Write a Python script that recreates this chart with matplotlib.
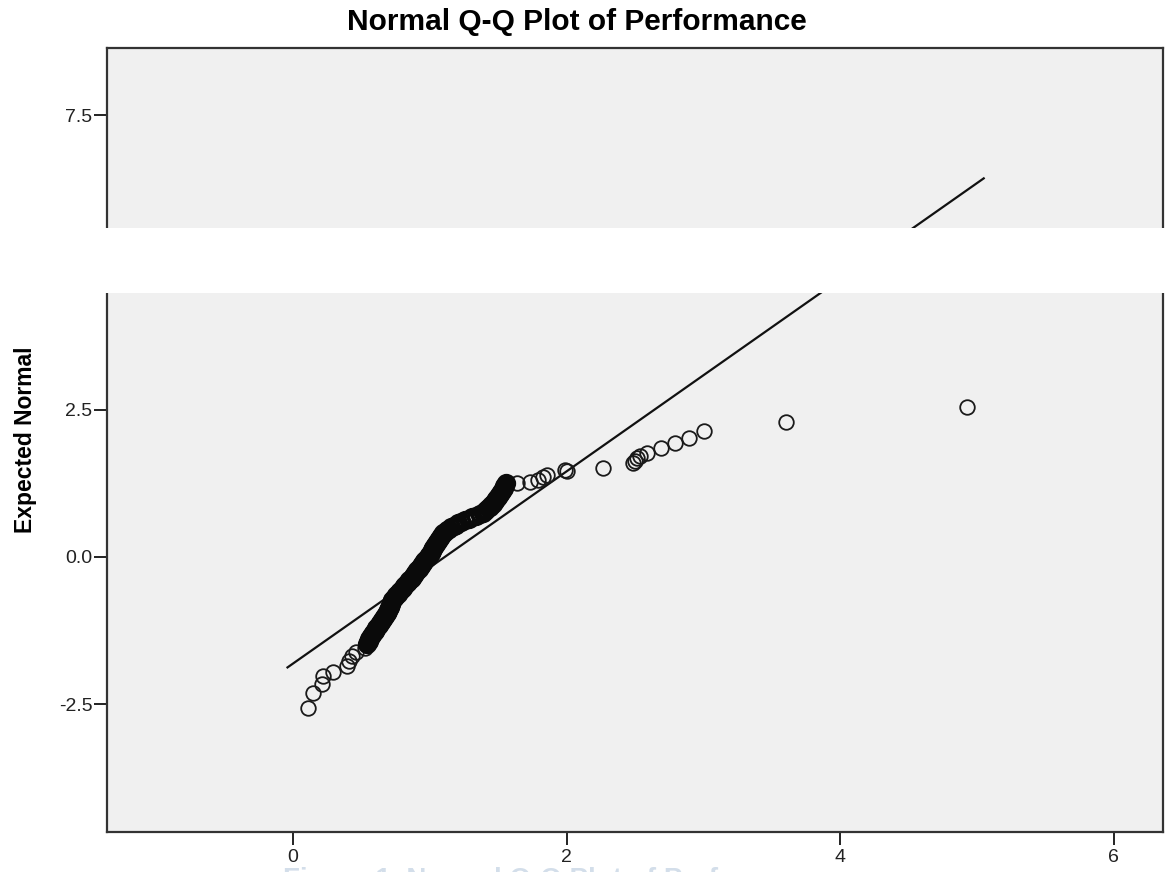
import matplotlib.pyplot as plt
from matplotlib.patches import Rectangle

lower_x = [0.11, 0.146, 0.212, 0.219, 0.292, 0.395, 0.409, 0.431, 0.461, 0.526, 0.534]
lower_y = [-2.56, -2.31, -2.16, -2.02, -1.95, -1.85, -1.77, -1.68, -1.61, -1.54, -1.48]

# the dense black band in the middle
mid_x = [0.540, 0.546, 0.553, 0.559, 0.565, 0.572, 0.578, 0.585, 0.591, 0.597, 0.604,
         0.610, 0.618, 0.626, 0.634, 0.642, 0.650, 0.658, 0.666, 0.674, 0.682,
         0.690, 0.694, 0.698, 0.702, 0.706, 0.710, 0.714, 0.718, 0.722,
         0.727, 0.736, 0.746, 0.756, 0.765, 0.775, 0.784, 0.794, 0.803, 0.813,
         0.822, 0.832, 0.842, 0.851,
         0.860, 0.868, 0.877, 0.885, 0.893, 0.902, 0.910, 0.918, 0.927, 0.935,
         0.943, 0.952, 0.960, 0.968, 0.977, 0.985,
         0.992, 0.999, 1.006, 1.013, 1.020, 1.027, 1.034, 1.041, 1.048, 1.055,
         1.062, 1.069, 1.076, 1.083, 1.090, 1.097,
         1.110, 1.126, 1.142, 1.158, 1.174, 1.191, 1.207,
         1.231, 1.258, 1.284, 1.311, 1.337, 1.364, 1.390,
         1.402, 1.413, 1.425, 1.437, 1.448, 1.460,
         1.468, 1.476, 1.484, 1.492, 1.500, 1.508, 1.515,
         1.522, 1.528, 1.534, 1.540, 1.546, 1.552, 1.557]
mid_y = [-1.475, -1.45, -1.425, -1.40, -1.375, -1.35, -1.325, -1.30, -1.275, -1.25, -1.225,
         -1.20, -1.175, -1.15, -1.125, -1.10, -1.075, -1.05, -1.025, -1.00, -0.975,
         -0.95, -0.925, -0.90, -0.875, -0.85, -0.825, -0.80, -0.775, -0.75,
         -0.725, -0.70, -0.675, -0.65, -0.625, -0.60, -0.575, -0.55, -0.525, -0.50,
         -0.475, -0.45, -0.425, -0.40,
         -0.375, -0.35, -0.325, -0.30, -0.275, -0.25, -0.225, -0.20, -0.175, -0.15,
         -0.125, -0.10, -0.075, -0.05, -0.025, 0.00,
         0.025, 0.05, 0.075, 0.10, 0.125, 0.15, 0.175, 0.20, 0.225, 0.25,
         0.275, 0.30, 0.325, 0.35, 0.375, 0.40,
         0.425, 0.45, 0.475, 0.50, 0.525, 0.55, 0.575,
         0.60, 0.625, 0.65, 0.675, 0.70, 0.725, 0.75,
         0.775, 0.80, 0.825, 0.85, 0.875, 0.90,
         0.925, 0.95, 0.975, 1.00, 1.025, 1.05, 1.075,
         1.10, 1.125, 1.15, 1.175, 1.20, 1.225, 1.25]

upper_x = [1.637, 1.732, 1.791, 1.827, 1.857, 1.988, 2.0, 2.266, 2.485, 2.50,
           2.515, 2.54, 2.588, 2.690, 2.792, 2.895, 3.004, 3.604, 4.93]
upper_y = [1.256, 1.273, 1.307, 1.358, 1.392, 1.477, 1.46, 1.511, 1.596, 1.63,
           1.681, 1.71, 1.766, 1.851, 1.935, 2.020, 2.139, 2.292, 2.547]

# reference normal line
normal_mean = 1.11
normal_sd = 0.613
line_x = [-0.04, 5.05]

xticks = [0, 2, 4, 6]
yticks = [-2.5, 0.0, 2.5, 5.0, 7.5]

plt.rcParams['font.family'] = ['Liberation Sans', 'DejaVu Sans']

fig = plt.figure(figsize=(11.65, 8.72), dpi=100)
ax = fig.add_axes([0.0918, 0.0459, 0.9064, 0.899])
ax.set_facecolor('#f0f0f0')

ax.plot(lower_x + upper_x, lower_y + upper_y, 'o', ms=10.5, mfc='none',
        mec='#1a1a1a', mew=1.3, zorder=3)
# overlapping circles in the crowded middle merge into a solid band
ax.plot(mid_x, mid_y, 'o', ms=11.5, mfc='none', mec='#0a0a0a', mew=2.4, zorder=3)

line_y = [(v - normal_mean) / normal_sd for v in line_x]
ax.plot(line_x, line_y, color='#111111', lw=1.6, zorder=2)

ax.set_xlim(-1.36, 6.36)
ax.set_ylim(-4.67, 8.64)
ax.set_xticks(xticks)
ax.set_xticklabels([str(t) for t in xticks])
ax.set_yticks(yticks)
ax.set_yticklabels(['%.1f' % t for t in yticks])
ax.tick_params(direction='out', length=9.5, width=1.4, color='#222222',
               labelsize=14, labelcolor='#222222')
ax.tick_params(axis='y', pad=1)
ax.tick_params(axis='x', pad=3)
for s in ax.spines.values():
    s.set_color('#333333')
    s.set_linewidth(1.6)

fig.suptitle('Normal Q-Q Plot of Performance', x=577 / 1165, y=1 - 22 / 872,
             va='center', fontsize=21.5, fontweight='bold')
ax.set_ylabel('Expected Normal', fontsize=16.5, fontweight='bold', labelpad=16)

# white band covering part of the chart
fig.add_artist(Rectangle((0, 1 - 293 / 872), 1, 65 / 872, transform=fig.transFigure,
                         facecolor='white', edgecolor='none', zorder=10))

# caption, mostly cut off at the bottom edge
fig.text(283 / 1165, 1 - 867 / 872, 'Figure 1. Normal Q-Q Plot of Performance',
         fontsize=20, color='#d3deea', ha='left', va='top', fontweight='bold')

fig.savefig('out.png', dpi=100)
